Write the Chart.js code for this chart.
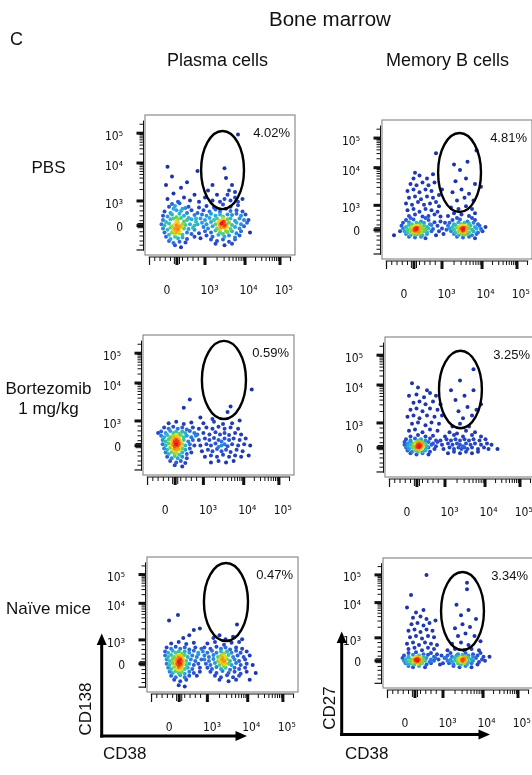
<!DOCTYPE html>
<html>
<head>
<meta charset="utf-8">
<script src="https://cdn.jsdelivr.net/npm/chart.js@4.4.1/dist/chart.umd.min.js"></script>
<style>
  html, body { margin: 0; padding: 0; background: #fff; }
  body { width: 532px; height: 775px; overflow: hidden; position: relative; }
  canvas { position: absolute; }
  #labels { position: absolute; left: 0; top: 0; pointer-events: none; }
  #labels text { font-family: "Liberation Sans", Arial, sans-serif; fill: #111; }
</style>
</head>
<body>
<canvas id="p1"></canvas>
<canvas id="p2"></canvas>
<canvas id="p3"></canvas>
<canvas id="p4"></canvas>
<canvas id="p5"></canvas>
<canvas id="p6"></canvas>

<svg id="labels" width="532" height="775">
  <text x="10" y="45" font-size="18">C</text>
  <text x="269" y="26" font-size="20.5">Bone marrow</text>
  <text id="col0" x="167" y="66" font-size="18"></text>
  <text id="col1" x="386" y="66" font-size="18"></text>
  <text id="row0" x="48.5" y="173" font-size="17" text-anchor="middle"></text>
  <text id="row1a" x="48.5" y="394" font-size="17" text-anchor="middle"></text>
  <text id="row1b" x="48.5" y="414" font-size="17" text-anchor="middle"></text>
  <text id="row2" x="48.5" y="614" font-size="17" text-anchor="middle"></text>

  <!-- axis arrows, left column -->
  <line x1="101.7" y1="737.5" x2="101.7" y2="643" stroke="#000" stroke-width="3"/>
  <polygon points="101.7,633.5 96.7,645 106.7,645" fill="#000"/>
  <line x1="100.2" y1="736" x2="237" y2="736" stroke="#000" stroke-width="3"/>
  <polygon points="247,736 235.5,731 235.5,741" fill="#000"/>
  <text transform="translate(91,709) rotate(-90)" font-size="17" text-anchor="middle">CD138</text>
  <text x="103" y="759" font-size="17">CD38</text>

  <!-- axis arrows, right column -->
  <line x1="341.7" y1="736" x2="341.7" y2="641" stroke="#000" stroke-width="3"/>
  <polygon points="341.7,631.5 336.7,643 346.7,643" fill="#000"/>
  <line x1="340.2" y1="734.5" x2="480" y2="734.5" stroke="#000" stroke-width="3"/>
  <polygon points="490,734.5 478.5,729.5 478.5,739.5" fill="#000"/>
  <text transform="translate(335,708) rotate(-90)" font-size="17" text-anchor="middle">CD27</text>
  <text x="345" y="759" font-size="17">CD38</text>
</svg>

<script>
// ---- labels ----
const colLabels = ['Plasma cells', 'Memory B cells'];
const rowLabels = ['PBS', 'Bortezomib', '1 mg/kg', 'Naïve mice'];
const gatePct = ['4.02%', '4.81%', '0.59%', '3.25%', '0.47%', '3.34%'];

// ---- axes (display units 0-100, biexponential positions) ----
const xTickVals = [14.7, 43, 69, 92.5];
const xTickLabels = ['0', '10³', '10⁴', '10⁵'];
const yTickVals = [19.5, 35.8, 63, 84.5];
const yTickLabels = ['0', '10³', '10⁴', '10⁵'];

// ---- events, x = CD38, y = CD138 / CD27 (display units) ----
const plasmaPBS = [16,34.5, 20,35, 25,33, 29,34.5, 18,36.5, 23,37,
  13,31, 17,30, 21,32, 24,31.5, 28,30, 31,32, 19,33, 27,33.5,
  12,28, 15,27.5, 18,29, 21,27, 23,29.5, 26,28, 29,26.5, 33,28.5,
  12,25, 14,23.5, 17,25.5, 19,26, 21,24, 22,25.5, 24,26.5, 26,24, 28,25, 31,25.5, 34,24,
  11,22, 13,21, 16,22.5, 18,20.5, 20,22, 21,21, 22,23, 23,20.5, 25,22, 27,21.5, 30,22, 33,21,
  12,19, 15,18, 17,19.5, 19,17.5, 20,19, 22,18.5, 23,17, 24,20, 26,19, 29,18.5, 32,19.5,
  13,16, 16,14.5, 18,16, 20,15, 21,16.5, 23,15.5, 25,14.5, 28,16, 31,15,
  14,13, 17,11.5, 20,13, 22,12, 25,12.5, 28,11.5, 16,10, 19,8.5, 23,9.5, 27,9, 20,7, 24,5.5,
  33,18, 35,22, 34,26, 36,15.5, 35,30, 37,12, 33,13, 36,34,
  41,35, 46,34, 52,36, 57,34.5, 62,35.5,
  39,32, 43,31, 47,32.5, 50,31, 54,33, 57,31.5, 61,32, 65,31,
  38,29, 41,28, 44,29.5, 47,28, 50,29, 52,27.5, 55,29, 58,28.5, 61,29.5, 64,28, 67,29,
  37,26, 40,25, 43,26.5, 46,25, 48,26, 50,24.5, 52,26, 53,24, 55,25.5, 57,26, 60,24.5, 63,26, 66,25,
  38,23, 41,22, 44,23.5, 47,22, 49,23, 50,21, 51,22.5, 52,23.5, 53,21, 54,22, 56,23, 58,21.5, 61,23, 64,22, 68,23,
  39,20, 42,19, 45,20.5, 48,19, 50,18, 51,20, 53,19.5, 54,17, 55,20, 57,18.5, 60,20, 63,19, 66,20.5,
  40,17, 44,16, 47,17.5, 50,16, 52,15, 55,16.5, 58,17, 61,15.5, 64,17,
  41,14, 45,13, 49,14.5, 53,13, 56,14, 60,12.5, 63,14, 44,11, 48,10, 52,11, 56,9.5, 60,11, 47,8, 53,7, 58,8,
  70,16, 69,25,
  15,40, 19,44, 14,50, 18,56, 15,63, 22,38, 26,41, 24,48, 30,39, 33,43, 28,52, 36,38, 40,41, 45,39,
  42,46, 48,43, 50,38, 53,40, 55,43, 56,46, 57,39, 60,41, 58,50, 62,38, 54,55, 53,62, 60,45, 65,40,
  35,60, 45,50, 62,86];

const memoryPBS = [16,28, 21,28.5, 26,27, 31,28, 19,29.5, 29,29.5,
  14,26, 18,26.5, 20,25, 23,26, 25,25.5, 28,26, 32,25, 35,26.5,
  13,24, 16,23, 18,24.5, 20,23, 22,24, 23,22.5, 24,24, 26,23.5, 28,24, 30,23, 33,24.5,
  14,22, 17,21, 19,22.5, 21,21, 22,22, 23,21.5, 24,22.5, 25,21, 27,22, 29,21, 31,22, 34,21.5,
  15,20, 17,19, 19,20, 21,19.5, 22,20.5, 23,19, 24,20, 26,19.5, 28,20, 30,19, 33,20,
  16,18, 19,17, 21,18, 23,17.5, 25,18, 27,17, 30,18, 18,16, 22,15.5, 26,16, 29,15,
  37,24, 38,20, 40,22, 42,26, 41,18, 39,27, 43,21, 36,17,
  47,28, 52,28.5, 57,27, 62,28, 50,29.5, 60,29.5,
  45,26, 48,25, 51,26.5, 53,25, 55,26, 58,25.5, 61,26, 64,25,
  44,24, 47,23, 49,24.5, 51,23, 53,24, 54,22.5, 55,24, 57,23.5, 59,24, 62,23, 65,24,
  45,22, 48,21, 50,22.5, 52,21, 53,22, 54,21.5, 55,22.5, 56,21, 58,22, 60,21, 63,22, 66,21.5,
  46,20, 49,19, 51,20, 53,19.5, 54,20.5, 55,19, 56,20, 58,19, 61,20, 64,19, 67,20,
  48,18, 51,17, 53,18, 55,17.5, 57,18, 60,17, 63,18, 50,16, 54,15.5, 58,16, 62,15,
  18,31, 22,32, 27,30.5, 31,31, 35,32, 39,30.5, 17,35, 21,36, 25,34, 29,36, 33,35, 37,34,
  16,40, 20,39, 24,41, 28,39, 32,40, 36,41, 18,44, 22,45, 26,43, 30,45, 34,44, 38,46,
  17,49, 21,50, 25,48, 29,50, 33,49, 19,54, 23,53, 27,55, 31,53, 35,55,
  21,58, 25,60, 30,58, 34,61, 22,62, 38,38, 40,50, 36,76,
  44,31, 48,33, 53,32, 58,31, 62,33, 46,37, 51,36, 56,38, 60,36, 50,42, 55,44, 61,42,
  47,48, 53,50, 58,47, 49,56, 56,58, 62,54, 52,64, 57,70, 48,68, 63,78, 66,52,
  12,20, 8,17, 69,23];

const plasmaBort = [17,37, 22,38, 27,36.5, 32,37.5,
  14,34, 17,33, 20,34.5, 23,33, 26,34, 29,32.5, 33,34,
  12,31, 15,30, 18,31.5, 20,30, 22,31, 24,29.5, 26,31, 28,30, 31,31.5, 34,30,
  12,28, 14,27, 16,28.5, 18,27, 20,28, 21,26.5, 22,28, 23,27, 25,28.5, 27,27, 29,28, 32,27, 35,28,
  13,25, 15,24, 17,25.5, 19,24, 20,25, 21,23.5, 22,25, 23,24, 24,25.5, 25,24, 27,25, 30,24, 33,25,
  13,22, 15,21, 17,22.5, 19,21, 20,22, 21,20.5, 22,22, 23,21, 24,22.5, 25,21, 26,22, 28,21, 31,22, 34,21,
  14,19, 16,18, 18,19.5, 20,18, 21,19, 22,17.5, 23,19, 24,18, 26,19, 28,18, 31,19,
  15,16, 17,15, 19,16.5, 21,15, 22,16, 24,14.5, 26,16, 29,15, 32,16,
  16,13, 19,12, 21,13.5, 23,12, 26,13, 29,12, 18,10, 22,9, 25,10, 28,8.5, 21,7, 26,6,
  40,37, 47,38, 53,36.5, 59,37,
  37,33, 42,34, 46,33, 50,34.5, 54,33, 58,34, 63,33,
  36,29, 40,30, 44,29, 48,30.5, 51,29, 54,30, 57,28.5, 61,30, 65,29,
  37,25, 41,26, 44,25, 47,26.5, 50,25, 52,24, 54,26, 57,25, 60,26, 64,25, 68,26,
  38,21, 42,22, 45,21, 48,22.5, 50,20, 52,21, 54,22, 56,20.5, 59,22, 63,21, 67,22, 71,21,
  39,17, 43,18, 46,17, 49,18.5, 52,17, 55,18, 58,16.5, 62,18, 66,17,
  41,13, 45,14, 49,13, 53,14.5, 57,13, 61,14, 65,13, 45,9, 50,10, 55,9, 60,10,
  31,54, 27,48, 72,61, 58,49, 56,45, 38,41, 46,40, 64,39, 10,30, 70,14];

const memoryBort = [17,29, 22,30, 27,29, 32,29.5,
  14,27, 17,26, 20,27.5, 22,26, 24,27, 27,26, 30,27.5, 34,26,
  13,25, 15,24, 17,25.5, 19,24, 21,25, 22,24, 23,25.5, 24,24, 25,25, 27,24, 29,25, 32,24, 35,25,
  13,23, 15,22, 17,23, 19,22, 20,23.5, 21,22, 22,23, 23,22, 24,23, 25,22, 26,23, 28,22, 31,23, 34,22,
  14,21, 16,20, 18,21, 20,20, 21,21, 22,20, 23,21, 24,20, 25,21, 27,20, 29,21, 33,20,
  15,19, 18,18, 20,19, 22,18, 23,19, 25,18, 27,19, 30,18, 17,17, 21,16, 25,17, 29,16,
  21,21.5, 23,23.5, 22,21.5, 24,22.5,
  40,29, 46,30, 52,29, 58,30, 64,29,
  37,26, 41,27, 44,26, 47,27, 50,26, 53,27, 56,26, 59,27, 63,26, 67,27,
  38,23, 42,24, 45,23, 48,24, 50,23, 52,22, 54,24, 57,23, 60,24, 64,23, 68,24, 71,23,
  39,20, 43,21, 46,20, 49,21, 51,20, 53,21, 55,20, 58,21, 62,20, 66,21, 69,20,
  42,17, 46,18, 50,17, 54,18, 58,17, 62,18,
  16,33, 20,34, 25,32, 30,34, 35,33, 18,38, 22,39, 27,37, 31,39, 36,38, 15,43, 19,44, 23,42, 28,44, 33,43,
  17,48, 21,49, 25,47, 30,49, 35,48, 19,53, 23,54, 27,52, 32,54, 16,58, 21,59, 26,57, 30,60,
  22,64, 18,67, 28,62, 34,58, 38,44, 37,52,
  43,32, 48,31, 54,33, 60,32, 45,36, 50,38, 56,36, 52,42, 58,44, 49,47, 55,50, 61,48,
  47,55, 53,58, 59,62, 50,69, 59,77, 64,52, 44,62, 75,20];

const plasmaNaive = [16,36, 21,37, 26,35.5, 31,36.5,
  13,33, 16,32, 19,33.5, 22,32, 25,33, 28,31.5, 32,33,
  12,30, 14,29, 17,30.5, 19,29, 21,30, 23,28.5, 25,30, 28,29, 31,30.5, 34,29,
  12,27, 14,26, 16,27.5, 18,26, 20,27, 21,25.5, 22,27, 23,26, 25,27.5, 27,26, 30,27, 33,26,
  13,24, 15,23, 17,24.5, 19,23, 20,24, 21,22.5, 22,24, 23,23, 24,24.5, 26,23, 29,24, 32,23,
  13,21, 15,20, 17,21.5, 19,20, 20,21, 21,19.5, 22,21, 23,20, 24,21.5, 26,20, 28,21, 31,20, 34,21,
  14,18, 16,17, 18,18.5, 20,17, 21,18, 22,16.5, 23,18, 25,17, 27,18, 30,17,
  15,15, 17,14, 19,15.5, 21,14, 23,15, 25,13.5, 28,15, 31,14,
  16,12, 19,11, 22,12.5, 25,11, 28,12, 18,9, 22,8, 26,9, 21,5, 25,4,
  33,12, 35,18, 36,24, 34,28, 36,32, 35,15,
  40,36, 45,37, 51,35, 56,36.5, 61,37,
  38,33, 42,32, 46,33.5, 49,32, 52,33, 55,31.5, 59,33, 63,32,
  37,30, 40,29, 43,30.5, 46,29, 49,30, 51,28.5, 53,30, 56,29, 59,30.5, 62,29, 66,30,
  38,27, 41,26, 44,27.5, 47,26, 49,27, 50,25.5, 51,27, 52,26, 54,27.5, 57,26, 60,27, 64,26, 68,27,
  38,24, 41,23, 44,24.5, 47,23, 48,24, 49,22, 50,24, 51,23, 52,22, 53,24.5, 55,23, 58,24, 61,23, 65,24,
  39,21, 42,20, 45,21.5, 48,20, 50,21, 51,19, 52,20.5, 54,21, 56,20, 59,21.5, 62,20, 66,21, 70,20,
  40,18, 43,17, 46,18.5, 49,17, 52,18, 55,16.5, 58,18, 61,17, 65,18,
  42,15, 46,14, 50,15.5, 54,14, 58,15, 62,13.5, 66,15, 45,12, 49,11, 53,12.5, 57,11, 61,12,
  48,9, 54,8, 59,9,
  14.6,53, 20.5,57, 31,46, 35,47, 59.6,50, 24,40, 28,42, 44,40, 52,39, 57,41, 63,39, 48,42, 72,14, 68,9];

const memoryNaive = [17,27, 22,27.5, 27,26, 32,27,
  14,25, 17,24, 20,25.5, 22,24, 24,25, 27,24, 30,25.5, 34,24,
  13,23, 15,22, 17,23.5, 19,22, 21,23, 22,22, 23,23.5, 24,22, 25,23, 27,22, 29,23, 32,22, 35,23,
  14,21, 16,20, 18,21, 20,20, 21,21.5, 22,20, 23,21, 24,20, 25,21.5, 26,20, 28,21, 31,20, 34,21,
  15,19, 17,18, 19,19, 21,18, 23,19, 24,18, 26,19, 29,18, 32,19, 17,17, 20,16, 24,17, 28,16,
  22,21.3, 23,22.3,
  45,27, 50,26, 55,27, 60,26, 65,27,
  43,25, 46,24, 49,25, 51,24, 53,25.5, 55,24, 57,25, 60,24, 63,25, 67,24,
  42,23, 45,22, 48,23, 50,22, 52,23.5, 53,22, 54,23, 55,22, 57,23, 59,22, 62,23, 66,22,
  43,21, 46,20, 48,21, 50,20, 51,21.5, 52,20, 53,21, 54,20, 55,21, 57,20, 60,21, 64,20, 68,21,
  44,19, 47,18, 50,19, 52,18, 54,19, 56,18, 59,19, 63,18, 47,17, 51,16, 55,17, 59,16,
  53,21.5, 54,22.3,
  37,22, 39,25, 40,19, 38,18, 41,23, 36,26,
  17,30, 21,31, 26,29, 30,31, 34,30, 16,34, 20,35, 24,33, 28,35, 32,34, 36,33,
  18,39, 22,40, 26,38, 30,40, 34,39, 17,44, 21,45, 25,43, 29,45, 33,44,
  19,49, 23,50, 27,48, 31,50, 20,54, 25,55, 29,53, 22,58, 27,60, 18.7,71.5, 29,87, 35,52, 16,62,
  43,29, 48,30, 54,29, 59,30, 64,29, 46,34, 52,35, 57,33, 50,40, 55,42, 61,40,
  48,46, 53,49, 58,47, 52,56, 57,60, 62,53, 56,76, 56,81, 49,64, 65,36, 71,24];

// gate ellipses, in display units
const gates = [
  { cx: 51.7, cy: 60.7, rx: 14.3, ry: 27.9 },
  { cx: 51.7, cy: 62.2, rx: 14.3, ry: 28.4 },
  { cx: 53.6, cy: 67.9, rx: 14.6, ry: 27.9 },
  { cx: 50.3, cy: 62.5, rx: 14.3, ry: 27.7 },
  { cx: 52.3, cy: 66.7, rx: 14.6, ry: 28.9 },
  { cx: 53.0, cy: 59.2, rx: 14.3, ry: 30.0 }
];

// fill label texts
document.getElementById('col0').textContent = colLabels[0];
document.getElementById('col1').textContent = colLabels[1];
document.getElementById('row0').textContent = rowLabels[0];
document.getElementById('row1a').textContent = rowLabels[1];
document.getElementById('row1b').textContent = rowLabels[2];
document.getElementById('row2').textContent = rowLabels[3];

// tick marks along the flow axes
const decade = (lo, hi) => [2, 3, 4, 5, 6, 7, 8, 9].map(k => lo + (hi - lo) * Math.log10(k));
const mk = (list, len, w) => list.map(v => ({ v, len, w }));
const yMarks = [].concat(
  mk([21, 38.6, 65.7, 87], 7, 3),
  mk(decade(38.6, 65.7).concat(decade(65.7, 87)), 4, 1),
  mk([24.5, 28, 31.5, 35, 93.4, 16.6, 13.6, 10, 7], 4, 1),
  mk([19.5, 22.5], 6, 1),
  mk([3.6], 7, 1.2)
);
const xMarks = [].concat(
  mk([21.3, 40, 66.7, 90], 8, 3),
  mk(decade(40, 66.7).concat(decade(66.7, 90)), 4, 1),
  mk([25, 28.5, 32, 35.5, 97, 17, 13.5, 10, 6.5], 4, 1),
  mk([19.6, 23], 7, 1),
  mk([3], 8, 1.2)
);

// density colouring (jet-like)
const jetStops = [[0, [30, 50, 165]], [0.22, [44, 84, 214]], [0.38, [40, 170, 226]], [0.5, [62, 204, 150]],
  [0.62, [130, 212, 56]], [0.75, [236, 226, 34]], [0.88, [255, 140, 16]], [1, [228, 26, 26]]];
function jet(v) {
  for (let i = 1; i < jetStops.length; i++) {
    const [p1, c1] = jetStops[i], [p0, c0] = jetStops[i - 1];
    if (v <= p1) {
      const t = (v - p0) / (p1 - p0);
      const c = c0.map((c, k) => Math.round(c + (c1[k] - c) * t));
      return 'rgb(' + c.join(',') + ')';
    }
  }
  return 'rgb(228,26,26)';
}

function toEvents(flat) {
  const pts = [];
  for (let i = 0; i < flat.length; i += 2) pts.push({ x: flat[i], y: flat[i + 1] });
  const d = pts.map(p => pts.reduce((s, q) => {
    const dx = (p.x - q.x) * 1.5, dy = (p.y - q.y) * 1.4;
    return s + Math.exp(-(dx * dx + dy * dy) / 18);
  }, 0));
  const lo = Math.min(...d), hi = Math.max(...d);
  const order = pts.map((p, i) => i).sort((a, b) => d[a] - d[b]);
  return {
    data: order.map(i => pts[i]),
    colors: order.map(i => jet((d[i] - lo) / (hi - lo)))
  };
}

const flowDecor = {
  id: 'flowDecor',
  afterDatasetsDraw(chart, args, opts) {
    const { ctx, chartArea: a, scales: { x, y } } = chart;
    const g = opts.gate;
    ctx.save();
    // frame
    ctx.strokeStyle = '#8c8c8c';
    ctx.lineWidth = 1.2;
    ctx.strokeRect(a.left, a.top, a.width, a.height);
    // gate
    const cx = x.getPixelForValue(g.cx), cy = y.getPixelForValue(g.cy);
    const rx = x.getPixelForValue(g.cx + g.rx) - cx, ry = cy - y.getPixelForValue(g.cy + g.ry);
    ctx.beginPath();
    ctx.ellipse(cx, cy, rx, ry, 0, 0, Math.PI * 2);
    ctx.strokeStyle = '#000';
    ctx.lineWidth = 2.4;
    ctx.stroke();
    // gate frequency
    ctx.fillStyle = '#111';
    ctx.font = '13px "Liberation Sans", Arial, sans-serif';
    ctx.textAlign = 'right';
    ctx.fillText(opts.pct, a.right - 5, a.top + 22);
    // axis lines + ticks
    ctx.strokeStyle = '#111';
    const yBase = a.left - 1.5, xBase = a.bottom + 2;
    ctx.lineWidth = 1;
    ctx.beginPath();
    ctx.moveTo(yBase, y.getPixelForValue(96));
    ctx.lineTo(yBase, y.getPixelForValue(3));
    ctx.moveTo(x.getPixelForValue(2.5), xBase);
    ctx.lineTo(x.getPixelForValue(97.5), xBase);
    ctx.stroke();
    yMarks.forEach(m => {
      const p = y.getPixelForValue(m.v);
      ctx.lineWidth = m.w;
      ctx.beginPath(); ctx.moveTo(yBase, p); ctx.lineTo(yBase - m.len, p); ctx.stroke();
    });
    xMarks.forEach(m => {
      const p = x.getPixelForValue(m.v);
      ctx.lineWidth = m.w;
      ctx.beginPath(); ctx.moveTo(p, xBase); ctx.lineTo(p, xBase + m.len); ctx.stroke();
    });
    ctx.restore();
  }
};

// panel boxes [left, top, width, height] on the page
const boxes = [[145, 115, 150, 140], [382, 120, 150, 139], [143, 335, 151, 140],
  [385, 337, 150, 140], [147, 557, 151, 135], [383, 558, 150, 130]];
const panelData = [plasmaPBS, memoryPBS, plasmaBort, memoryBort, plasmaNaive, memoryNaive];

const tickFont = { family: '"DejaVu Sans Condensed", "DejaVu Sans", sans-serif', size: 12 };
// keep label padding from shrinking the plot frame
const noSidePadding = s => { s.paddingLeft = 0; s.paddingRight = 0; s.paddingTop = 0; s.paddingBottom = 0; };

panelData.forEach((flat, i) => {
  const [l, t, w, h] = boxes[i];
  const cv = document.getElementById('p' + (i + 1));
  cv.width = w + 66; cv.height = h + 61;
  cv.style.left = (l - 58) + 'px'; cv.style.top = (t - 8) + 'px';
  const ev = toEvents(flat);
  new Chart(cv, {
    type: 'scatter',
    data: {
      datasets: [{
        data: ev.data,
        pointBackgroundColor: ev.colors,
        pointBorderWidth: 0,
        pointRadius: 2,
        pointHoverRadius: 2
      }]
    },
    options: {
      responsive: false,
      animation: false,
      events: [],
      layout: { padding: { left: 8, right: 8, top: 8, bottom: 8 } },
      plugins: {
        legend: { display: false },
        tooltip: { enabled: false },
        flowDecor: { gate: gates[i], pct: gatePct[i] }
      },
      scales: {
        x: {
          type: 'linear', min: 0, max: 100,
          grid: { display: false, drawTicks: false },
          border: { display: false },
          afterBuildTicks: s => { s.ticks = xTickVals.map(v => ({ value: v })); },
          afterFit: s => { s.height = 45; noSidePadding(s); },
          ticks: {
            padding: 29, color: '#111', font: tickFont, maxRotation: 0, autoSkip: false,
            callback: (v, k) => xTickLabels[k]
          }
        },
        y: {
          type: 'linear', min: 0, max: 100,
          grid: { display: false, drawTicks: false },
          border: { display: false },
          afterBuildTicks: s => { s.ticks = yTickVals.map(v => ({ value: v })); },
          afterFit: s => { s.width = 50; noSidePadding(s); },
          ticks: {
            padding: 22, color: '#111', font: tickFont, autoSkip: false,
            callback: (v, k) => yTickLabels[k]
          }
        }
      }
    },
    plugins: [flowDecor]
  });
});
</script>
</body>
</html>
